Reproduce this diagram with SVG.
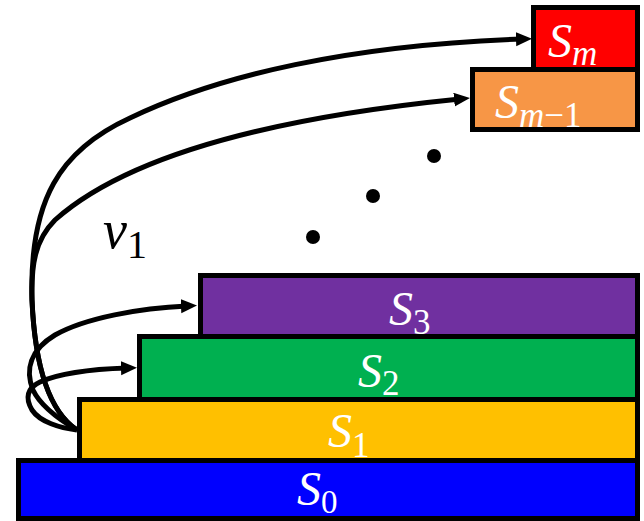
<svg xmlns="http://www.w3.org/2000/svg" width="644" height="521" viewBox="0 0 644 521">
<style>
.box{stroke:#000;stroke-width:5}
.lbl{font-family:"Liberation Serif","DejaVu Serif",serif;fill:#fff}
.it{font-style:italic}
.conn{fill:none;stroke:#000;stroke-width:5}
</style>
<defs>
<marker id="ah" markerUnits="userSpaceOnUse" markerWidth="18" markerHeight="16" refX="6" refY="7" orient="auto">
<path d="M0,0 L16,7 L0,14 z" fill="#000"/>
</marker>
</defs>
<rect width="644" height="521" fill="#fff"/>
<g id="S0"><rect class="box" x="18.5" y="460.5" width="619" height="58" fill="#0000FF"/>
<text class="lbl" x="297" y="505" font-size="48"><tspan class="it">S</tspan><tspan font-size="33" dy="8">0</tspan></text></g>
<g id="S1"><rect class="box" x="79.5" y="399.5" width="558" height="61" fill="#FFC000"/>
<text class="lbl" x="328" y="447" font-size="48"><tspan class="it">S</tspan><tspan font-size="35" dy="10">1</tspan></text></g>
<g id="S2"><rect class="box" x="139.5" y="336.5" width="498" height="63" fill="#00B050"/>
<text class="lbl" x="358" y="387" font-size="48"><tspan class="it">S</tspan><tspan font-size="35" dy="8">2</tspan></text></g>
<g id="S3"><rect class="box" x="200.5" y="275.5" width="437" height="61" fill="#7030A0"/>
<text class="lbl" x="389" y="325" font-size="48"><tspan class="it">S</tspan><tspan font-size="35" dy="9">3</tspan></text></g>
<g id="Sm1"><rect class="box" x="472.5" y="69.5" width="165" height="60" fill="#F79646"/>
<text class="lbl" x="495" y="118" font-size="48"><tspan class="it">S</tspan><tspan font-size="35" dy="9"><tspan class="it">m</tspan>−1</tspan></text></g>
<g id="Sm"><rect class="box" x="533.5" y="7.5" width="104" height="62" fill="#FF0000"/>
<text class="lbl" x="548" y="57" font-size="48"><tspan class="it">S</tspan><tspan class="it" font-size="35" dy="8">m</tspan></text></g>
<g id="v1"><text x="103" y="248" font-size="54" font-family="Liberation Serif,DejaVu Serif,serif" fill="#000"><tspan font-style="italic">v</tspan><tspan font-size="40" dy="10">1</tspan></text></g>
<g id="dots" fill="#000">
<circle cx="313" cy="237" r="7"/><circle cx="373" cy="196" r="7"/><circle cx="434" cy="156" r="7"/>
</g>
<g id="connectors">
<path class="conn" d="M77,430 C50,412 35,370 32,300 C29,200 60,150 130,118 C220,75 350,45 522,39" marker-end="url(#ah)"/>
<path class="conn" d="M77,430 C50,412 35,370 32,300 C31,265 35,240 55,220 C100,180 200,125 460,99" marker-end="url(#ah)"/>
<path class="conn" d="M77,430 C60,420 40,405 33,390 C25,370 30,350 55,335 C85,318 140,308 187,306" marker-end="url(#ah)"/>
<path class="conn" d="M77,430 C60,428 40,422 32,410 C25,398 27,388 40,382 C60,373 95,369 127,368" marker-end="url(#ah)"/>
</g>
</svg>
